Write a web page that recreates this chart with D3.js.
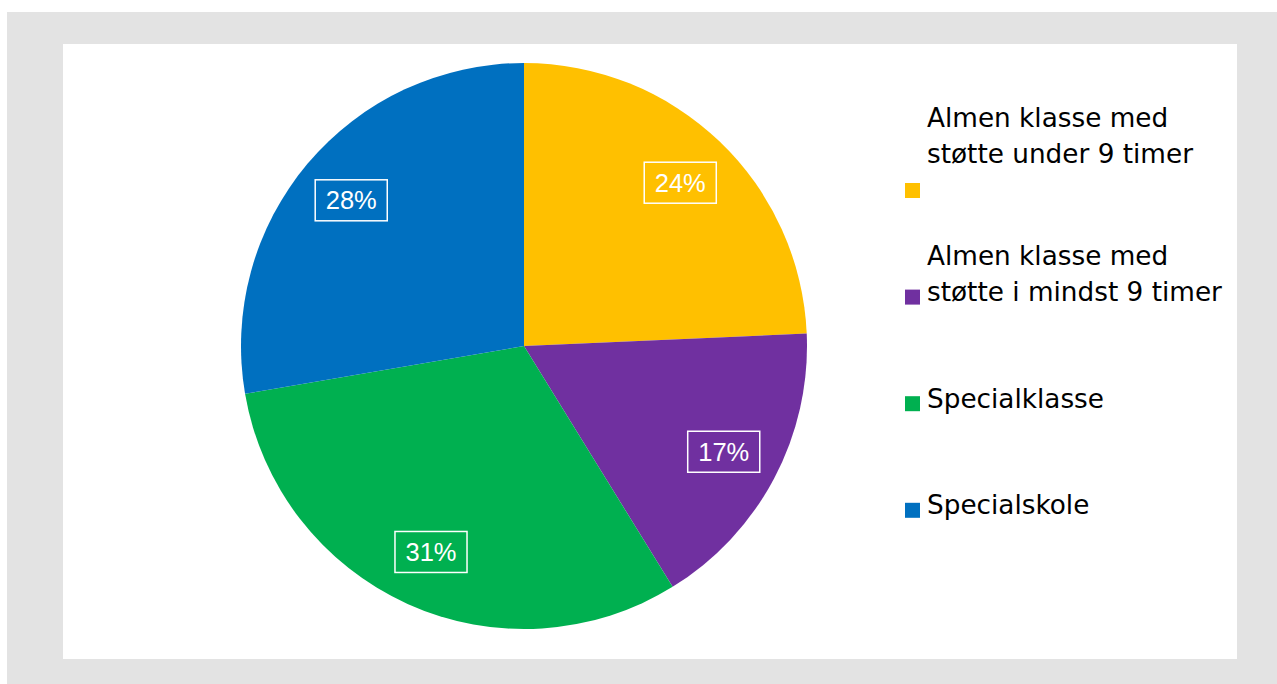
<!DOCTYPE html>
<html>
<head>
<meta charset="utf-8">
<script src="https://cdn.jsdelivr.net/npm/d3@7"></script>
<style>
  html, body { margin: 0; padding: 0; background: #ffffff; }
  svg { display: block; }
  text { font-family: "DejaVu Sans", Verdana, sans-serif; }
</style>
</head>
<body>
<svg id="chart" width="1277" height="684"></svg>
<script>
// ---- data ----
const categories = [
  "Almen klasse med støtte under 9 timer",
  "Almen klasse med støtte i mindst 9 timer",
  "Specialklasse",
  "Specialskole"
];
const legendLines = [
  ["Almen klasse med", "støtte under 9 timer", ""],
  ["Almen klasse med", "støtte i mindst 9 timer"],
  ["Specialklasse"],
  ["Specialskole"]
];
const values = [24.3, 16.9, 31.1, 27.7];
const colors = ["#FFC000", "#7030A0", "#00B050", "#0070C0"];

// ---- layout ----
const W = 1277, H = 684;
const svg = d3.select("#chart");

svg.append("rect").attr("x", 7).attr("y", 12).attr("width", W - 7).attr("height", H - 12).attr("fill", "#e3e3e3");
svg.append("rect").attr("x", 63).attr("y", 44).attr("width", 1237 - 63).attr("height", 659 - 44).attr("fill", "#ffffff");

const cx = 524, cy = 346, R = 283;
const data = categories.map((c, i) => ({ cat: c, value: values[i], color: colors[i] }));

const pie = d3.pie().value(d => d.value).sort(null).startAngle(0).endAngle(2 * Math.PI);
const arcs = pie(data);
const arc = d3.arc().innerRadius(0).outerRadius(R);
const labelArc = d3.arc().innerRadius(226).outerRadius(226);
const total = d3.sum(values);

const g = svg.append("g").attr("transform", `translate(${cx},${cy})`);
g.selectAll("path.slice").data(arcs).join("path")
  .attr("class", "slice")
  .attr("d", arc)
  .attr("fill", d => d.data.color);

const lbl = g.selectAll("g.lbl").data(arcs).join("g")
  .attr("class", "lbl")
  .attr("transform", d => `translate(${labelArc.centroid(d)})`);

lbl.append("text")
  .attr("text-anchor", "middle")
  .attr("dy", "0.36em")
  .style("font-size", "25.5px")
  .style("font-family", "'Liberation Sans', Arial, sans-serif")
  .attr("fill", "#ffffff")
  .text(d => Math.round(d.data.value / total * 100) + "%");

lbl.each(function() {
  const t = d3.select(this).select("text");
  const w = t.node().getComputedTextLength() + 21;
  const h = 41;
  d3.select(this).insert("rect", "text")
    .attr("x", -w / 2).attr("y", -h / 2)
    .attr("width", w).attr("height", h)
    .attr("fill", "none").attr("stroke", "#ffffff").attr("stroke-width", 1.5);
});

// ---- legend ----
const legX = 905, legY0 = 190.5, legStep = 106.6, sq = 15, lineH = 36;
const leg = svg.append("g");
categories.forEach((c, i) => {
  const my = legY0 + i * legStep;
  leg.append("rect")
    .attr("x", legX).attr("y", my - sq / 2)
    .attr("width", sq).attr("height", sq)
    .attr("fill", colors[i]);
  const lines = legendLines[i];
  const lastBase = my + (lines.length > 2 ? 8 : 4);
  lines.forEach((ln, k) => {
    leg.append("text")
      .attr("x", 927)
      .attr("y", lastBase - (lines.length - 1 - k) * lineH)
      .attr("font-size", 26.3)
      .attr("fill", "#000000")
      .text(ln);
  });
});
</script>
</body>
</html>
